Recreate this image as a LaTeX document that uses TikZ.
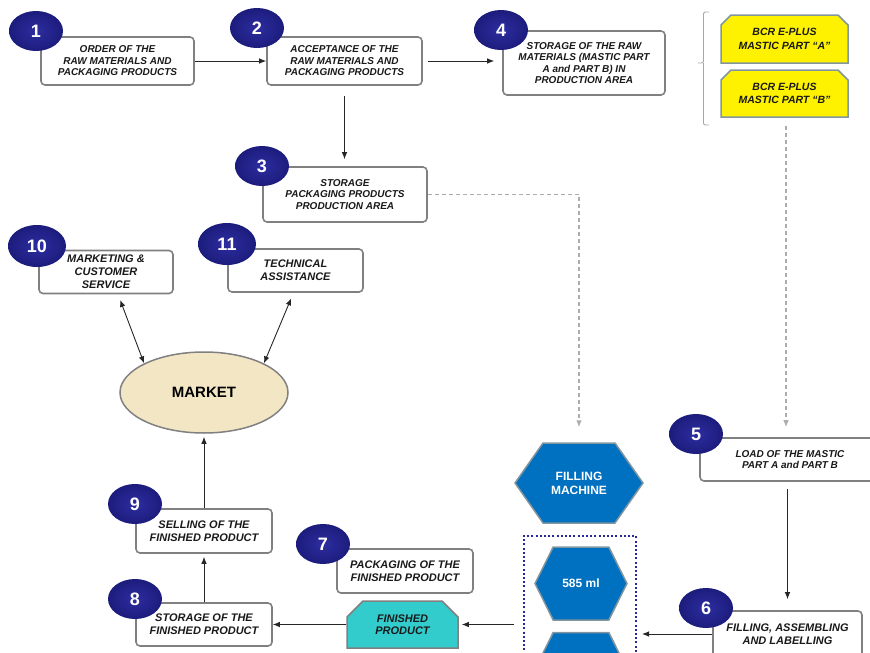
\documentclass[tikz,border=0pt]{standalone}
\usepackage{fontspec}
\setmainfont{Liberation Sans}
\usetikzlibrary{arrows.meta,shapes.geometric,shapes.misc,shapes.symbols}

\definecolor{navy}{RGB}{28,28,125}
\definecolor{navylight}{RGB}{45,45,160}
\definecolor{boxgray}{RGB}{128,128,128}
\definecolor{mktfill}{RGB}{242,230,196}
\definecolor{hexblue}{RGB}{0,112,192}
\definecolor{hexline}{RGB}{130,150,160}
\definecolor{fpcyan}{RGB}{51,204,204}
\definecolor{dotblue}{RGB}{40,40,150}

\begin{document}
\begin{tikzpicture}
		[x=1pt,y=-1pt,auto=center,
		num/.style={ellipse,inner color=navylight,outer color=navy,text=white,inner sep=0pt,minimum width=54pt,minimum height=40pt,font=\bfseries\fontsize{18}{18}\selectfont},
		stepbox/.style={draw=boxgray,line width=1.6pt,fill=white,rounded corners=4pt,align=center,inner sep=0pt,text=black!90,font=\bfseries\itshape\fontsize{10}{11.5}\selectfont},
		bigbox/.style={stepbox,font=\bfseries\itshape\fontsize{11}{13}\selectfont},
		tag/.style={chamfered rectangle,chamfered rectangle corners={north west,north east},chamfered rectangle xsep=5pt,chamfered rectangle ysep=5pt,line width=1.5pt,align=center,inner sep=0pt,text=black!90},
		hexa/.style={signal,signal to=west and east,fill=hexblue,draw=hexline,line width=1.5pt,text=white,align=center,inner sep=0pt,font=\bfseries\fontsize{12}{14}\selectfont},
		edge/.style={->,> = {Latex[length=7pt,width=5.5pt]},black!85,line width=0.9pt},
		dashedge/.style={->,> = {Latex[length=7pt,width=5.5pt]},gray!65,line width=1.2pt,dash pattern=on 4pt off 3pt}]
		\useasboundingbox (0,0) rectangle (870,653);
		\clip (0,0) rectangle (870,653);

		% process boxes
		\node[stepbox,minimum width=153pt,minimum height=48pt] (n1) at (117.5,61) {ORDER OF THE\\RAW MATERIALS AND\\PACKAGING PRODUCTS};
		\node[stepbox,minimum width=155pt,minimum height=48pt] (n2) at (344.5,61) {ACCEPTANCE OF THE\\RAW MATERIALS AND\\PACKAGING PRODUCTS};
		\node[stepbox,minimum width=164pt,minimum height=55pt] (n3) at (345,194.5) {STORAGE\\PACKAGING PRODUCTS\\PRODUCTION AREA};
		\node[stepbox,minimum width=162pt,minimum height=64pt] (n4) at (584,63) {STORAGE OF THE RAW\\MATERIALS (MASTIC PART\\A and PART B) IN\\PRODUCTION AREA};
		\node[stepbox,minimum width=180pt,minimum height=43pt] (n5) at (790,459.5) {LOAD OF THE MASTIC\\PART A and PART B};
		\node[bigbox,minimum width=149pt,minimum height=46pt] (n6) at (787.5,634) {FILLING, ASSEMBLING\\AND LABELLING};
		\node[bigbox,minimum width=136pt,minimum height=44pt] (n7) at (405,571) {PACKAGING OF THE\\FINISHED PRODUCT};
		\node[bigbox,minimum width=136pt,minimum height=43pt] (n8) at (204,624.5) {STORAGE OF THE\\FINISHED PRODUCT};
		\node[bigbox,minimum width=136pt,minimum height=44pt] (n9) at (204,531) {SELLING OF THE\\FINISHED PRODUCT};
		\node[bigbox,minimum width=134pt,minimum height=43pt] (n10) at (106,272) {MARKETING \&\\CUSTOMER\\SERVICE};
		\node[bigbox,minimum width=135pt,minimum height=43pt] (n11) at (295.5,270.5) {TECHNICAL\\ASSISTANCE};

		% products and machine
		\node[tag,fill=yellow,draw=hexline,minimum width=127pt,minimum height=48pt,font=\bfseries\itshape\fontsize{10.5}{13.5}\selectfont] (pa) at (784.5,39) {BCR E-PLUS\\MASTIC PART ``A''};
		\node[tag,fill=yellow,draw=hexline,minimum width=127pt,minimum height=47pt,font=\bfseries\itshape\fontsize{10.5}{13.5}\selectfont] (pb) at (784.5,93.5) {BCR E-PLUS\\MASTIC PART ``B''};
		\node[tag,chamfered rectangle xsep=8pt,chamfered rectangle ysep=8pt,fill=fpcyan,draw=boxgray,minimum width=111pt,minimum height=47pt,font=\bfseries\itshape\fontsize{11}{12.5}\selectfont] (fp) at (402.5,624.5) {FINISHED\\PRODUCT};
		\node[ellipse,fill=mktfill,draw=boxgray,line width=1.5pt,minimum width=168pt,minimum height=81pt,font=\bfseries\fontsize{15}{15}\selectfont] (mk) at (204,392.5) {MARKET};
		\node[hexa,signal pointer angle=110,minimum width=128pt,minimum height=80pt] (fm) at (579,483) {FILLING\\MACHINE};
		\node[draw=dotblue,line width=2pt,dash pattern=on 2pt off 2.2pt,minimum width=112pt,minimum height=134pt] (grp) at (580,603) {};
		\node[hexa,signal pointer angle=127,minimum width=92pt,minimum height=73pt] (h1) at (581,583.5) {585 ml};
		\node[hexa,signal pointer angle=127,minimum width=92pt,minimum height=73pt] (h2) at (581,669) {};

		% bracket
		\draw[gray!70,line width=0.9pt,rounded corners=2pt] (709,12) -- (703.5,12) -- (703.5,63) -- (698,63);
		\draw[gray!70,line width=0.9pt,rounded corners=2pt] (703.5,63) -- (703.5,125) -- (709,125);

		% step numbers
		\foreach \n/\x/\y in {1/36/31,2/257/28,3/262/166,4/501/30,5/696/434,6/706/608,7/323/544,8/135/599,9/135/504}
		\node[num] (c\n) at (\x,\y) {\n};
		\node[num,minimum width=58pt,minimum height=42pt] (c10) at (37,246) {10};
		\node[num,minimum width=58pt,minimum height=42pt] (c11) at (227,244) {11};

		% flow
		\foreach \from/\to in {n1/n2,fp/n8}
		\draw[edge] (\from) -- (\to);
		\draw[edge,shorten <=5pt,shorten >=8pt] (n2.east) -- (n2.east -| n4.west);
		\draw[edge,shorten <=10pt,shorten >=7pt] (n2.south) -- (n2.south |- n3.north);
		\draw[edge,shorten >=3pt] (n8) -- (n9);
		\draw[edge,shorten >=3pt] (n9) -- (mk);
		\draw[edge,shorten <=7pt,shorten >=11pt] (n6 |- n5.south) -- (n6.north);
		\draw[edge,shorten >=5pt] (n6.west) -- (n6.west -| grp.east);
		\draw[edge,shorten <=9pt,shorten >=3pt] (grp.west |- fp) -- (fp.east);
		\draw[edge,<->,shorten <=6pt] ([xshift=12pt]n10.south) -- (mk.north west);
		\draw[edge,<->,shorten <=6pt] ([xshift=-2pt]n11.south) -- (mk.north east);
		\draw[dashedge,shorten >=15pt] (n3.east) -| (fm.north);
		\draw[dashedge,shorten <=8pt,shorten >=10pt] ([xshift=1.5pt]pb.south) -- ([xshift=1.5pt]pb.south |- n5.north);
		\end{tikzpicture}
\end{document}
